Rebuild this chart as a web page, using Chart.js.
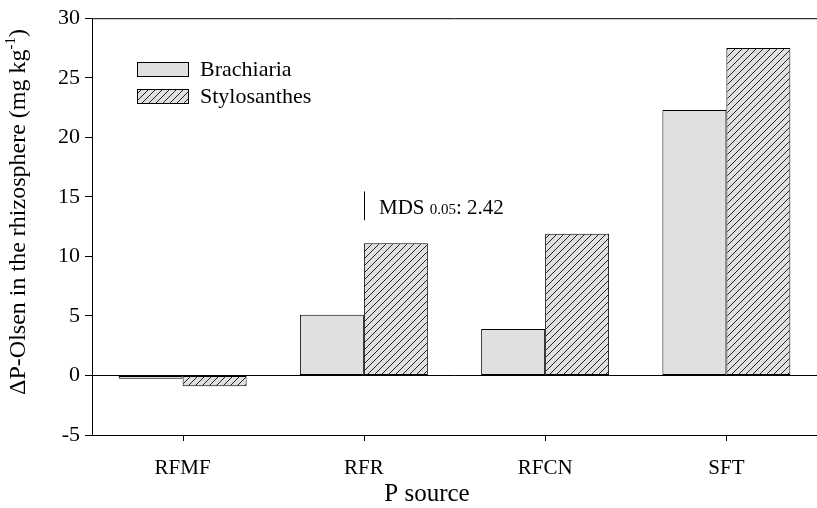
<!DOCTYPE html>
<html>
<head>
<meta charset="utf-8">
<script src="https://cdn.jsdelivr.net/npm/chart.js@4/dist/chart.umd.min.js"></script>
<style>
  html, body { margin: 0; padding: 0; background: #fff; overflow: hidden; }
  #wrap { width: 817px; height: 508px; }
</style>
</head>
<body>
<div id="wrap"><canvas id="deltaChart" width="817" height="508"></canvas></div>
<script>
// data
const sources = ['RFMF', 'RFR', 'RFCN', 'SFT'];
const brachiaria = [-0.28, 5.1, 3.9, 22.3];
const stylosanthes = [-0.9, 11.1, 11.9, 27.5];
const yTicks = [-5, 0, 5, 10, 15, 20, 25, 30];
const mds = 2.42;
const mdsTop = 15.45; // where the MDS bar starts, above RFR

const SERIF = '"Liberation Serif", "Times New Roman", serif';
const GRAY = '#e0e0e0';

function hatch() {
    const s = 7;
    const c = document.createElement('canvas');
    c.width = s; c.height = s;
    const g = c.getContext('2d');
    g.fillStyle = GRAY;
    g.fillRect(0, 0, s, s);
    g.strokeStyle = '#222';
    g.lineWidth = 1;
    g.beginPath();
    g.moveTo(-1, s + 1); g.lineTo(s + 1, -1);
    g.moveTo(-1, 1); g.lineTo(1, -1);
    g.moveTo(s - 1, s + 1); g.lineTo(s + 1, s - 1);
    g.stroke();
    return g.createPattern(c, 'repeat');
}

const hatchFill = hatch();

// frame, zero line, legend, MDS mark and the axis titles
const extras = {
    id: 'extras',
    afterDatasetsDraw(chart) {
        const { ctx, chartArea: a, scales: { x, y } } = chart;
        ctx.save();
        ctx.strokeStyle = '#000';
        ctx.lineWidth = 1;

        // top line and zero line
        ctx.beginPath();
        ctx.moveTo(a.left, a.top + 0.5); ctx.lineTo(a.right, a.top + 0.5);
        const y0 = Math.round(y.getPixelForValue(0)) + 0.5;
        ctx.moveTo(a.left, y0); ctx.lineTo(a.right, y0);
        // tick marks under the categories
        sources.forEach((s, i) => {
            const px = Math.round(x.getPixelForValue(i)) + 0.5;
            ctx.moveTo(px, a.bottom); ctx.lineTo(px, a.bottom + 6);
        });
        ctx.stroke();

        // legend
        const fills = [GRAY, hatchFill];
        chart.data.datasets.forEach((ds, i) => {
            const bx = 137.5, by = 62.5 + i * 27;
            ctx.fillStyle = fills[i];
            ctx.fillRect(bx, by, 51, 14);
            ctx.strokeRect(bx, by, 51, 14);
            ctx.fillStyle = '#000';
            ctx.font = '22px ' + SERIF;
            ctx.textBaseline = 'middle';
            ctx.textAlign = 'left';
            ctx.fillText(ds.label, 200, by + 8);
        });

        // MDS bar
        const mx = Math.round(x.getPixelForValue(1)) + 0.5;
        ctx.beginPath();
        ctx.moveTo(mx, y.getPixelForValue(mdsTop));
        ctx.lineTo(mx, y.getPixelForValue(mdsTop - mds));
        ctx.stroke();
        ctx.textBaseline = 'alphabetic';
        ctx.fillStyle = '#000';
        let tx = 379;
        const ty = 214;
        ctx.font = '21px ' + SERIF;
        ctx.fillText('MDS ', tx, ty);
        tx += ctx.measureText('MDS ').width;
        ctx.font = '15px ' + SERIF;
        ctx.fillText('0.05', tx, ty);
        tx += ctx.measureText('0.05').width;
        ctx.font = '21px ' + SERIF;
        ctx.fillText(': ' + mds.toFixed(2), tx, ty);

        // x axis title
        ctx.font = '25px ' + SERIF;
        ctx.textAlign = 'center';
        ctx.textBaseline = 'middle';
        ctx.fillText('P source', 427, 494);

        // y axis title
        ctx.textAlign = 'left';
        ctx.translate(19, 212);
        ctx.rotate(-Math.PI / 2);
        const big = '24px ' + SERIF, small = '15px ' + SERIF;
        const p1 = '\u0394P-Olsen in the rhizosphere (mg kg', p2 = '-1', p3 = ')';
        ctx.font = big; const w1 = ctx.measureText(p1).width, w3 = ctx.measureText(p3).width;
        ctx.font = small; const w2 = ctx.measureText(p2).width;
        let sx = -(w1 + w2 + w3) / 2;
        ctx.font = big; ctx.fillText(p1, sx, 0); sx += w1;
        ctx.font = small; ctx.fillText(p2, sx, -8); sx += w2;
        ctx.font = big; ctx.fillText(p3, sx, 0);
        ctx.restore();
    }
};

new Chart(document.getElementById('deltaChart'), {
    type: 'bar',
    data: {
        labels: sources,
        datasets: [
            {
                label: 'Brachiaria',
                data: brachiaria,
                backgroundColor: GRAY,
                borderColor: '#000',
                borderWidth: 1,
                borderSkipped: false
            },
            {
                label: 'Stylosanthes',
                data: stylosanthes,
                backgroundColor: hatchFill,
                borderColor: '#000',
                borderWidth: 1,
                borderSkipped: false
            }
        ]
    },
    options: {
        responsive: false,
        animation: false,
        events: [],
        layout: { padding: { top: 12, right: 0, bottom: 0, left: 0 } },
        categoryPercentage: 0.706,
        barPercentage: 1,
        plugins: {
            legend: { display: false },
            tooltip: { enabled: false }
        },
        scales: {
            x: {
                grid: { display: false, drawTicks: false },
                border: { display: true, color: '#000', width: 1 },
                ticks: { color: '#000', font: { family: SERIF, size: 21 }, padding: 21 },
                afterFit(scale) { scale.height = 73; }
            },
            y: {
                min: -5,
                max: 30,
                afterBuildTicks(scale) { scale.ticks = yTicks.map(v => ({ value: v })); },
                grid: { display: true, drawOnChartArea: false, tickLength: 7, color: '#000' },
                border: { display: true, color: '#000', width: 1 },
                ticks: { color: '#000', font: { family: SERIF, size: 22 }, padding: 5 },
                afterFit(scale) { scale.width = 92; }
            }
        }
    },
    plugins: [extras]
});
</script>
</body>
</html>
